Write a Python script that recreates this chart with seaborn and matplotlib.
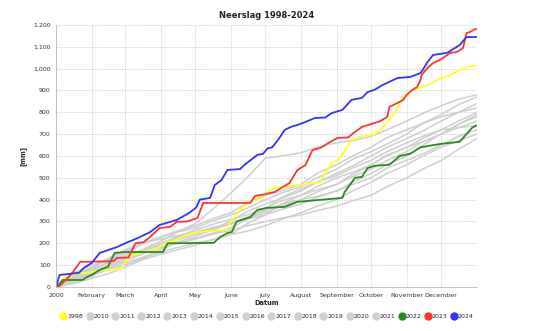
import matplotlib
matplotlib.use("Agg")
import matplotlib.pyplot as plt
from matplotlib.lines import Line2D
from matplotlib.ticker import FuncFormatter
import seaborn as sns
import pandas as pd

# ---- data ----
month_days = [0, 31, 60, 91, 121, 152, 182, 213, 244, 274, 305, 335]
month_labels = ["2000", "February", "March", "April", "May", "June", "July",
                "August", "September", "October", "November", "December"]

gray_days = [0, 15, 31, 45, 60, 75, 91, 105, 121, 135, 152, 166, 182, 196, 213,
             227, 244, 258, 274, 288, 305, 319, 335, 350, 366]
gray_years = ["2010", "2011", "2012", "2013", "2014", "2015", "2016", "2017",
              "2018", "2019", "2020", "2021"]
g2010 = [0, 40, 70, 95, 130, 165, 190, 215, 240, 265, 300, 345, 380, 405, 440, 480, 520, 555, 600, 640, 680, 715, 760, 800, 840]
g2011 = [0, 20, 50, 80, 100, 130, 160, 180, 200, 215, 240, 290, 330, 380, 420, 460, 500, 525, 560, 605, 640, 665, 700, 745, 780]
g2012 = [0, 45, 80, 115, 150, 200, 230, 250, 270, 300, 330, 360, 400, 430, 460, 500, 540, 585, 620, 655, 700, 750, 790, 835, 870]
g2013 = [0, 35, 60, 85, 110, 135, 170, 205, 230, 260, 290, 320, 350, 380, 400, 415, 440, 470, 500, 545, 580, 610, 650, 690, 720]
g2014 = [0, 55, 90, 130, 160, 200, 230, 255, 280, 310, 340, 385, 420, 440, 470, 520, 560, 600, 640, 685, 720, 750, 780, 800, 820]
g2015 = [0, 30, 60, 100, 130, 165, 200, 230, 260, 285, 310, 330, 360, 395, 420, 445, 470, 505, 540, 580, 620, 665, 700, 730, 760]
g2016 = [0, 40, 75, 110, 140, 170, 210, 250, 290, 350, 430, 500, 590, 600, 615, 640, 660, 670, 690, 720, 760, 795, 830, 860, 880]
g2017 = [0, 15, 40, 60, 90, 125, 150, 170, 190, 215, 240, 255, 280, 310, 340, 370, 400, 440, 480, 520, 560, 600, 640, 670, 700]
g2018 = [0, 65, 100, 125, 150, 165, 180, 200, 220, 240, 260, 280, 300, 315, 330, 350, 370, 395, 420, 460, 500, 540, 580, 630, 680]
g2019 = [0, 30, 55, 90, 120, 155, 190, 225, 250, 270, 290, 315, 340, 370, 400, 435, 470, 515, 560, 600, 640, 680, 720, 760, 800]
g2020 = [0, 50, 85, 130, 170, 200, 220, 235, 250, 270, 290, 310, 330, 355, 380, 410, 440, 480, 520, 560, 600, 650, 700, 745, 790]
g2021 = [0, 35, 65, 95, 120, 150, 180, 200, 220, 245, 270, 310, 360, 410, 450, 480, 510, 545, 580, 620, 660, 690, 720, 730, 740]
gray_values = [g2010, g2011, g2012, g2013, g2014, g2015, g2016, g2017,
               g2018, g2019, g2020, g2021]

days_1998 = [0, 6, 12, 17, 23, 32, 41, 54, 57, 60, 66, 77, 89, 97, 102, 117, 123,
             149, 151, 160, 169, 177, 183, 190, 199, 230, 234, 240, 245, 251, 257,
             263, 277, 282, 290, 297, 302, 310, 323, 331, 343, 351, 360, 366]
mm_1998 = [0, 40, 50, 60, 64, 69, 78, 82, 87, 115, 147, 160, 180, 206, 210, 245, 252,
           262, 293, 353, 390, 408, 430, 454, 458, 481, 522, 568, 582, 622, 673,
           687, 700, 720, 765, 820, 870, 903, 925, 948, 971, 994, 1010, 1015]

days_2022 = [0, 3, 6, 23, 27, 31, 38, 45, 51, 60, 93, 97, 137, 143, 149, 153, 157,
             169, 175, 183, 199, 210, 249, 251, 260, 266, 271, 277, 290, 299, 308,
             317, 334, 351, 357, 362, 366]
mm_2022 = [0, 15, 32, 32, 46, 55, 78, 92, 156, 160, 160, 200, 202, 230, 247, 252, 300,
           320, 353, 362, 367, 390, 408, 435, 500, 504, 545, 555, 560, 600, 610,
           640, 655, 665, 700, 730, 740]

days_2023 = [0, 3, 8, 14, 21, 50, 53, 63, 69, 76, 82, 90, 99, 105, 114, 123, 128,
             169, 173, 182, 190, 203, 210, 217, 223, 230, 237, 245, 254, 260, 266,
             277, 282, 288, 290, 297, 302, 305, 310, 314, 317, 318, 323, 328, 334,
             343, 349, 354, 357, 360, 364, 366]
mm_2023 = [0, 5, 30, 64, 115, 118, 133, 135, 200, 205, 230, 270, 275, 298, 300, 316,
           385, 385, 417, 425, 435, 476, 536, 559, 627, 637, 660, 683, 685, 710, 733,
           751, 760, 779, 825, 843, 857, 880, 903, 916, 948, 971, 1003, 1026, 1040,
           1072, 1077, 1095, 1163, 1168, 1180, 1182]

days_2024 = [0, 3, 12, 20, 24, 31, 38, 53, 60, 71, 82, 90, 105, 116, 122, 125, 134,
             138, 144, 149, 160, 164, 169, 175, 180, 184, 188, 193, 199, 205, 210,
             217, 225, 234, 240, 249, 257, 266, 271, 277, 284, 290, 297, 308, 317,
             319, 323, 328, 340, 351, 357, 363, 366]
mm_2024 = [0, 55, 60, 65, 87, 110, 156, 183, 200, 224, 252, 284, 307, 340, 365, 400,
           408, 467, 490, 536, 540, 560, 580, 605, 610, 635, 640, 673, 720, 735, 742,
           756, 774, 776, 797, 811, 857, 866, 893, 903, 925, 940, 957, 962, 980, 995,
           1030, 1063, 1072, 1108, 1145, 1145, 1145]

highlight = [("1998", days_1998, mm_1998, "#ffff22"),
             ("2022", days_2022, mm_2022, "#2a8a22"),
             ("2023", days_2023, mm_2023, "#ff3333"),
             ("2024", days_2024, mm_2024, "#3333ff")]
gray_color = "#cfcfcf"

# ---- figure ----
sns.set_style("white")
plt.rcParams["font.family"] = ["DejaVu Sans"]
fig = plt.figure(figsize=(5.34, 3.31), dpi=100)
ax = fig.add_axes([0.105, 0.133, 0.788, 0.7915])

for yr, vals in zip(gray_years, gray_values):
    df = pd.DataFrame({"day": gray_days, "mm": vals})
    sns.lineplot(data=df, x="day", y="mm", ax=ax, color=gray_color, lw=1.1,
                 estimator=None, sort=False)

for yr, d, v, c in highlight:
    df = pd.DataFrame({"day": d, "mm": v})
    sns.lineplot(data=df, x="day", y="mm", ax=ax, color=c, lw=1.3,
                 estimator=None, sort=False)

ax.set_xlim(0, 366)
ax.set_ylim(0, 1200)
ax.set_xticks(month_days)
ax.set_xticklabels(month_labels)
ax.set_yticks(range(0, 1201, 100))
ax.yaxis.set_major_formatter(FuncFormatter(lambda v, p: f"{v:,.0f}"))
ax.tick_params(axis="both", labelsize=4.5, colors="#333333", length=2, width=0.5, pad=2)
ax.grid(True, color="#d8d8d8", linestyle=(0, (2, 1)), lw=0.6)
for s in ["top", "right"]:
    ax.spines[s].set_visible(False)
for s in ["left", "bottom"]:
    ax.spines[s].set_color("#bbbbbb")
    ax.spines[s].set_linewidth(0.6)

ax.set_xlabel("Datum", fontsize=4.8, fontweight="bold", labelpad=2)
ax.set_ylabel("[mm]", fontsize=4.8, fontweight="bold", labelpad=5)
ax.set_title("Neerslag 1998-2024", fontsize=6, fontweight="bold", pad=5, color="#222222")

legend_years = ["1998"] + gray_years + ["2022", "2023", "2024"]
legend_colors = ["#ffff22"] + [gray_color] * len(gray_years) + ["#2a8a22", "#ff3333", "#3333ff"]
handles = [Line2D([], [], marker="o", linestyle="none", markersize=5,
                  markerfacecolor=c, markeredgecolor=c) for c in legend_colors]
fig.legend(handles, legend_years, loc="center", bbox_to_anchor=(0.5, 0.045),
           ncol=len(legend_years), frameon=False, fontsize=4.5,
           handletextpad=0.1, columnspacing=0.55, handlelength=1.0)

fig.savefig("out.png", dpi=100)
